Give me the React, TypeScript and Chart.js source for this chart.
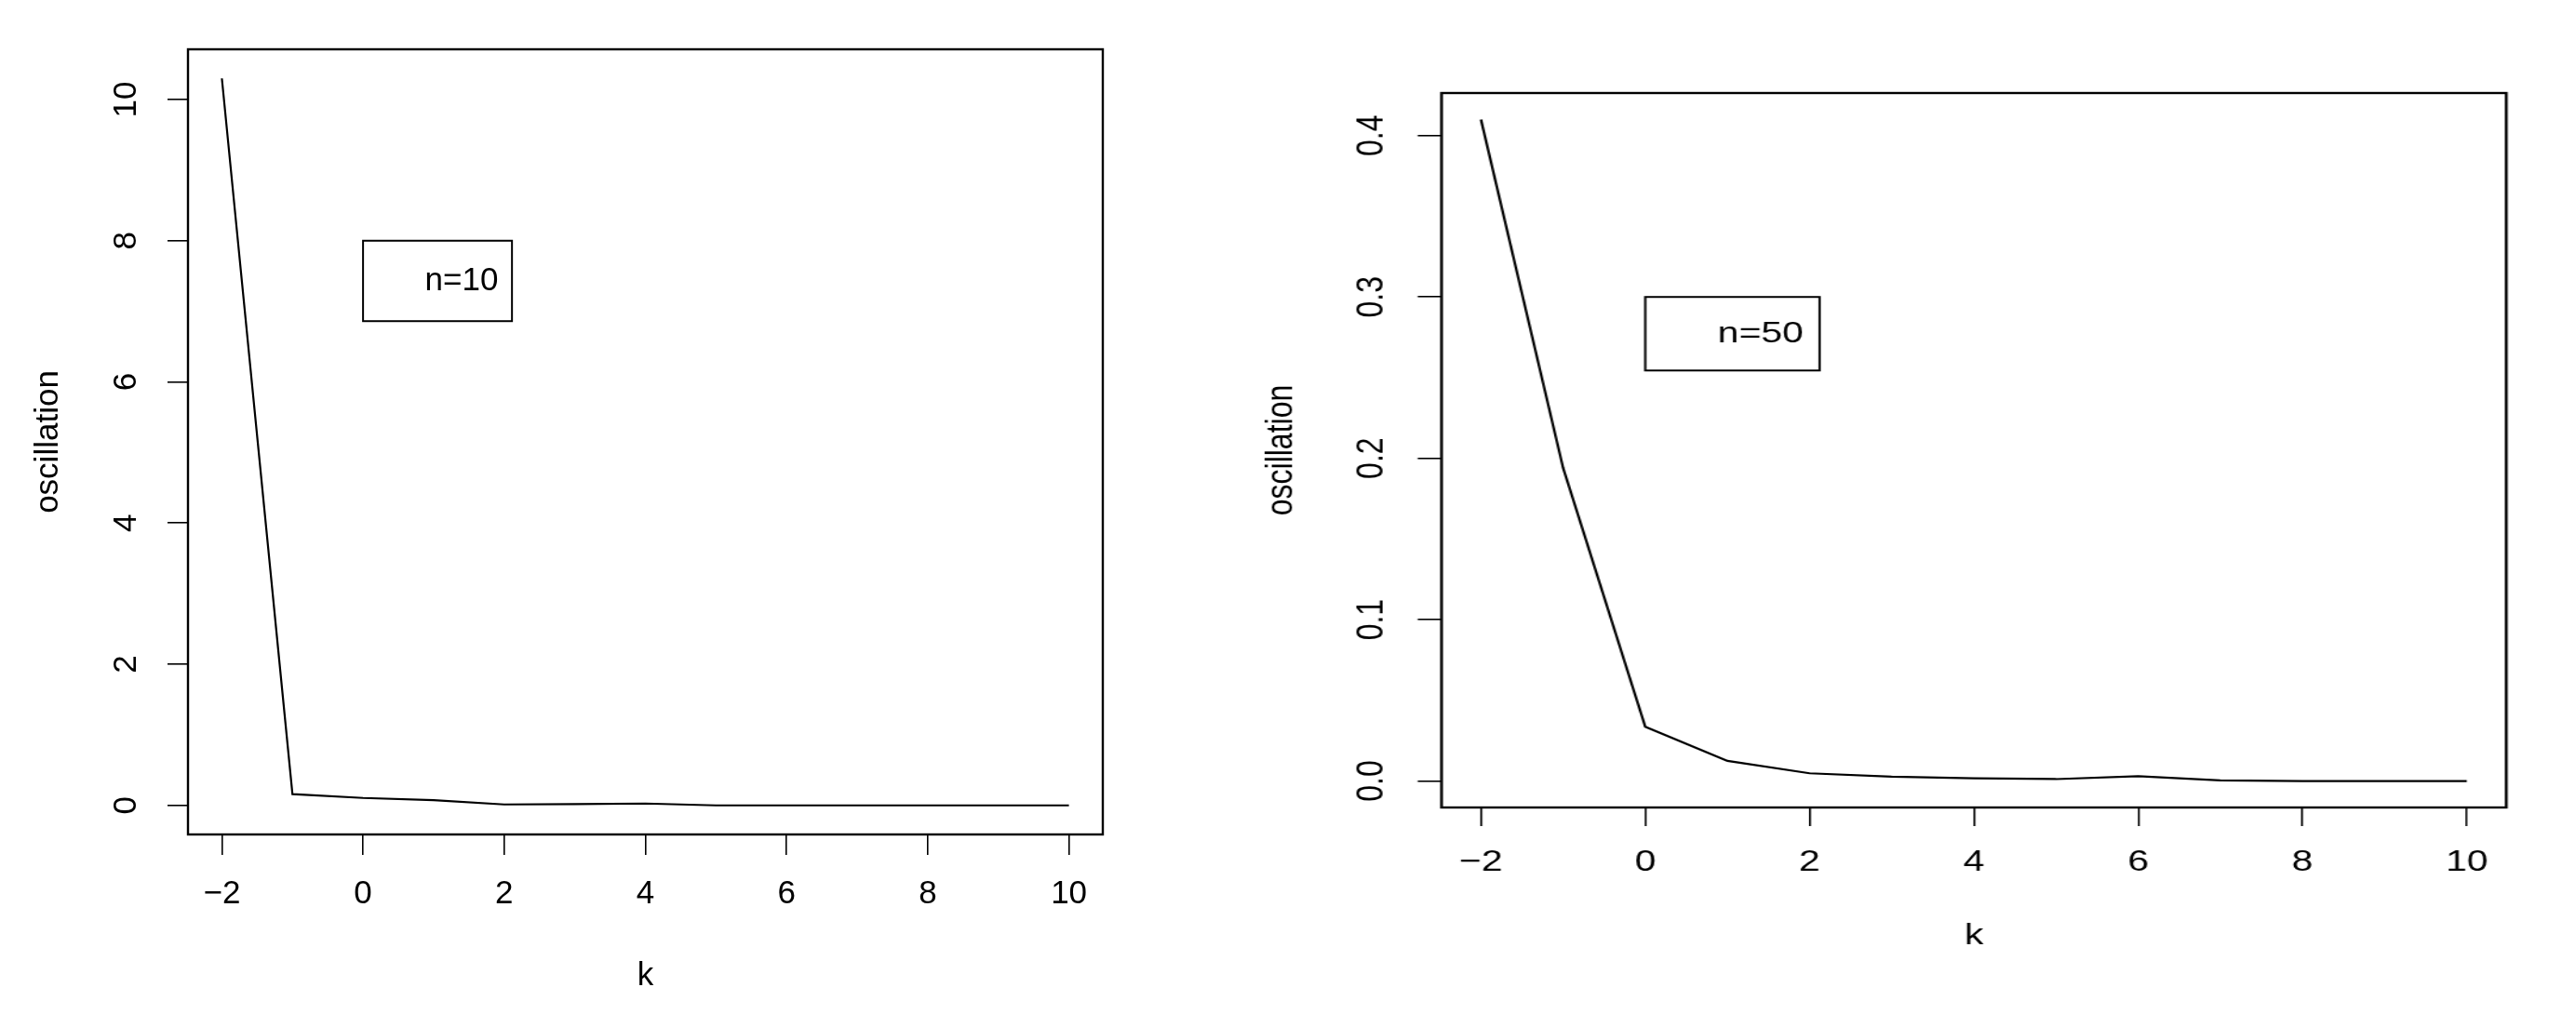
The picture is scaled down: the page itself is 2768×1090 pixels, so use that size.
import React, { useEffect, useRef } from "react";
import { Chart, registerables } from "chart.js";

Chart.register(...registerables);

// ---------- data ----------
const K_VALUES = [-2, -1, 0, 1, 2, 3, 4, 5, 6, 7, 8, 9, 10];
const OSC_N10 = [10.3, 0.16, 0.105, 0.075, 0.013, 0.018, 0.026, 0, 0, 0, 0, 0, 0];
const OSC_N50 = [0.41, 0.194, 0.0336, 0.0125, 0.0048, 0.0027, 0.0017, 0.0012, 0.003, 0.0004, 0, 0, 0];
const X_TICKS = [-2, 0, 2, 4, 6, 8, 10];
const Y_TICKS_N10 = [0, 2, 4, 6, 8, 10];
const Y_TICKS_N50 = [0, 0.1, 0.2, 0.3, 0.4];
const LEGEND_N10 = "n=10";
const LEGEND_N50 = "n=50";
const LEGEND_POS_N10 = [0, 8];
const LEGEND_POS_N50 = [0, 0.3];
const X_LABEL = "k";
const Y_LABEL = "oscillation";

const FAMILY = "'Liberation Sans', Arial, Helvetica, sans-serif";

type Panel = {
  values: number[];
  yTicks: number[];
  yDigits: number;
  legendText: string;
  legendPos: number[];
  width: number;
  height: number;
  font: number;
  pad: { left: number; top: number; right: number; bottom: number };
  yAxisW: number;
  xAxisH: number;
  tickLen: number;
  xTickPad: number;
  yTickPad: number;
  yTitlePad: number;
};

function rRange(vals: number[]) {
  const lo = Math.min(...vals);
  const hi = Math.max(...vals);
  const d = (hi - lo) * 0.04;
  return [lo - d, hi + d];
}

function fmtNum(v: number, digits: number) {
  const s = v.toFixed(digits);
  return v < 0 ? "\u2212" + s.replace("-", "") : s;
}

function ChartPanel({ cfg }: { cfg: Panel }) {
  const ref = useRef<HTMLCanvasElement | null>(null);
  useEffect(() => {
    if (!ref.current) return;
    const [xmin, xmax] = rRange(K_VALUES);
    const [ymin, ymax] = rRange(cfg.values);
    const f = cfg.font;

    const framePlugin = {
      id: "frame",
      afterDraw(chart: any) {
        const { ctx, chartArea: a } = chart;
        ctx.save();
        ctx.strokeStyle = "#000";
        ctx.lineWidth = 2.4;
        ctx.strokeRect(a.left, a.top, a.right - a.left, a.bottom - a.top);
        ctx.restore();
      },
    };

    const legendPlugin = {
      id: "rlegend",
      afterDraw(chart: any) {
        const { ctx } = chart;
        const xs = chart.scales.x;
        const ys = chart.scales.y;
        const px = xs.getPixelForValue(cfg.legendPos[0]);
        const py = ys.getPixelForValue(cfg.legendPos[1]);
        ctx.save();
        ctx.font = `${f}px ${FAMILY}`;
        const tw = ctx.measureText(cfg.legendText).width;
        const w = tw + 2.32 * f;
        const h = 2.47 * f;
        ctx.strokeStyle = "#000";
        ctx.lineWidth = 2;
        ctx.strokeRect(px, py, w, h);
        ctx.fillStyle = "#000";
        ctx.textAlign = "left";
        ctx.textBaseline = "middle";
        ctx.fillText(cfg.legendText, px + 1.9 * f, py + h / 2);
        ctx.restore();
      },
    };

    const chart = new Chart(ref.current, {
      type: "line",
      data: {
        datasets: [
          {
            data: K_VALUES.map((k, i) => ({ x: k, y: cfg.values[i] })),
            borderColor: "#000",
            borderWidth: 2.2,
            pointRadius: 0,
            tension: 0,
            fill: false,
          },
        ],
      },
      options: {
        animation: false,
        responsive: false,
        devicePixelRatio: 1,
        parsing: false as any,
        layout: { padding: cfg.pad },
        plugins: { legend: { display: false }, tooltip: { enabled: false } },
        scales: {
          x: {
            type: "linear",
            min: xmin,
            max: xmax,
            border: { display: false },
            grid: {
              drawOnChartArea: false,
              drawTicks: true,
              tickLength: cfg.tickLen,
              color: "#000",
              lineWidth: 1.6,
            },
            ticks: {
              color: "#000",
              font: { family: FAMILY, size: f },
              padding: cfg.xTickPad,
              maxRotation: 0,
              minRotation: 0,
              autoSkip: false,
              callback: (v: any) => fmtNum(Number(v), 0),
            },
            afterBuildTicks: (s: any) => {
              s.ticks = X_TICKS.map((v) => ({ value: v }));
            },
            afterFit: (s: any) => {
              s.height = cfg.xAxisH;
            },
            title: {
              display: true,
              text: X_LABEL,
              color: "#000",
              font: { family: FAMILY, size: f },
              padding: { top: 0, bottom: 0 },
            },
          },
          y: {
            type: "linear",
            min: ymin,
            max: ymax,
            border: { display: false },
            grid: {
              drawOnChartArea: false,
              drawTicks: true,
              tickLength: cfg.tickLen,
              color: "#000",
              lineWidth: 1.6,
            },
            ticks: {
              color: "#000",
              font: { family: FAMILY, size: f },
              padding: cfg.yTickPad,
              minRotation: 90,
              maxRotation: 90,
              crossAlign: "center",
              autoSkip: false,
              callback: (v: any) => fmtNum(Number(v), cfg.yDigits),
            },
            afterBuildTicks: (s: any) => {
              s.ticks = cfg.yTicks.map((v) => ({ value: v }));
            },
            afterFit: (s: any) => {
              s.width = cfg.yAxisW;
            },
            title: {
              display: true,
              text: Y_LABEL,
              color: "#000",
              font: { family: FAMILY, size: f },
              padding: { top: cfg.yTitlePad, bottom: 0 },
            },
          },
        },
      } as any,
      plugins: [framePlugin, legendPlugin],
    });
    return () => chart.destroy();
  }, [cfg]);
  return <canvas ref={ref} width={cfg.width} height={cfg.height} style={{ display: "block" }} />;
}

const LEFT: Panel = {
  values: OSC_N10,
  yTicks: Y_TICKS_N10,
  yDigits: 0,
  legendText: LEGEND_N10,
  legendPos: LEGEND_POS_N10,
  width: 1300,
  height: 1090,
  font: 35,
  pad: { left: 0, top: 53, right: 115, bottom: 20 },
  yAxisW: 202,
  xAxisH: 173,
  tickLen: 22,
  xTickPad: 21,
  yTickPad: 24,
  yTitlePad: 31,
};

const SX = 1.28;
const RIGHT: Panel = {
  values: OSC_N50,
  yTicks: Y_TICKS_N50,
  yDigits: 1,
  legendText: LEGEND_N50,
  legendPos: LEGEND_POS_N50,
  width: 1147,
  height: 1090,
  font: 32,
  pad: { left: 0, top: 100, right: 58.7, bottom: 64.8 },
  yAxisW: 194.5,
  xAxisH: 157.2,
  tickLen: 20,
  xTickPad: 19.8,
  yTickPad: 16.4,
  yTitlePad: 41,
};

export default function App() {
  return (
    <div
      style={{
        position: "absolute",
        left: 0,
        top: 0,
        width: 2768,
        height: 1090,
        overflow: "hidden",
        background: "#fff",
      }}
    >
      <div style={{ position: "absolute", left: 0, top: 0 }}>
        <ChartPanel cfg={LEFT} />
      </div>
      <div
        style={{
          position: "absolute",
          left: 1300,
          top: 0,
          width: RIGHT.width,
          height: RIGHT.height,
          transform: `scale(${SX}, 1)`,
          transformOrigin: "0 0",
        }}
      >
        <ChartPanel cfg={RIGHT} />
      </div>
    </div>
  );
}
